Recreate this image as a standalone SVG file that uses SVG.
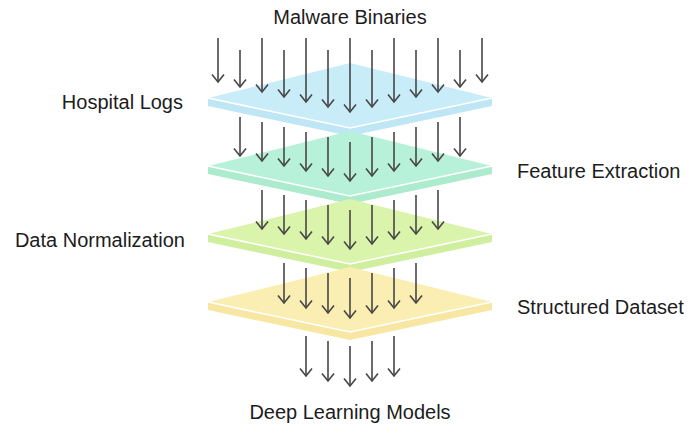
<svg xmlns="http://www.w3.org/2000/svg" width="696" height="429" viewBox="0 0 696 429">
<style>
.lbl{font-family:"Liberation Sans",Arial,sans-serif;font-size:20px;fill:#1c1c1c}
.edge{fill:none;stroke:#ffffff;stroke-width:1.6}
.arr{stroke:#474747;stroke-width:1.6;fill:none;marker-end:url(#ah)}
</style>
<defs>
<marker id="ah" markerUnits="userSpaceOnUse" markerWidth="20" markerHeight="20" refX="0" refY="0" orient="auto" overflow="visible">
<path d="M-7.5,-6 L0,0 L-7.5,6" fill="none" stroke="#474747" stroke-width="1.6"/>
</marker>
</defs>
<rect width="696" height="429" fill="#ffffff"/>
<g id="layer-hospital-logs">
<polygon points="350,63 492,98 350,128 208,98" fill="#c9ecf9"/>
<polygon points="208,98 350,128 492,98 492,106 350,136 208,106" fill="#bfe6f5"/>
<polyline class="edge" points="208,98 350,128 492,98"/>
</g>
<g id="layer-feature-extraction">
<polygon points="350,131 492,166 350,196 208,166" fill="#b8f1d9"/>
<polygon points="208,166 350,196 492,166 492,174 350,204 208,174" fill="#adebcf"/>
<polyline class="edge" points="208,166 350,196 492,166"/>
</g>
<g id="layer-data-normalization">
<polygon points="350,199 492,234 350,264 208,234" fill="#daf4ab"/>
<polygon points="208,234 350,264 492,234 492,242 350,272 208,242" fill="#d0ef9e"/>
<polyline class="edge" points="208,234 350,264 492,234"/>
</g>
<g id="layer-structured-dataset">
<polygon points="350,267 492,302 350,332 208,302" fill="#fbeeb2"/>
<polygon points="208,302 350,332 492,302 492,310 350,340 208,310" fill="#f7e7a3"/>
<polyline class="edge" points="208,302 350,332 492,302"/>
</g>
<g id="connectors">
<line class="arr" x1="218" y1="38" x2="218" y2="82"/>
<line class="arr" x1="240" y1="50" x2="240" y2="87"/>
<line class="arr" x1="262" y1="38" x2="262" y2="92"/>
<line class="arr" x1="284" y1="50" x2="284" y2="97"/>
<line class="arr" x1="306" y1="38" x2="306" y2="102"/>
<line class="arr" x1="328" y1="50" x2="328" y2="107"/>
<line class="arr" x1="350" y1="38" x2="350" y2="112"/>
<line class="arr" x1="372" y1="50" x2="372" y2="107"/>
<line class="arr" x1="394" y1="38" x2="394" y2="102"/>
<line class="arr" x1="416" y1="50" x2="416" y2="97"/>
<line class="arr" x1="438" y1="38" x2="438" y2="92"/>
<line class="arr" x1="460" y1="50" x2="460" y2="87"/>
<line class="arr" x1="482" y1="38" x2="482" y2="82"/>

<line class="arr" x1="240" y1="117" x2="240" y2="156"/>
<line class="arr" x1="262" y1="122" x2="262" y2="161"/>
<line class="arr" x1="284" y1="127" x2="284" y2="166"/>
<line class="arr" x1="306" y1="132" x2="306" y2="171"/>
<line class="arr" x1="328" y1="137" x2="328" y2="176"/>
<line class="arr" x1="350" y1="142" x2="350" y2="181"/>
<line class="arr" x1="372" y1="137" x2="372" y2="176"/>
<line class="arr" x1="394" y1="132" x2="394" y2="171"/>
<line class="arr" x1="416" y1="127" x2="416" y2="166"/>
<line class="arr" x1="438" y1="122" x2="438" y2="161"/>
<line class="arr" x1="460" y1="117" x2="460" y2="156"/>

<line class="arr" x1="262" y1="190" x2="262" y2="229"/>
<line class="arr" x1="284" y1="195" x2="284" y2="234"/>
<line class="arr" x1="306" y1="200" x2="306" y2="239"/>
<line class="arr" x1="328" y1="205" x2="328" y2="244"/>
<line class="arr" x1="350" y1="210" x2="350" y2="249"/>
<line class="arr" x1="372" y1="205" x2="372" y2="244"/>
<line class="arr" x1="394" y1="200" x2="394" y2="239"/>
<line class="arr" x1="416" y1="195" x2="416" y2="234"/>
<line class="arr" x1="438" y1="190" x2="438" y2="229"/>

<line class="arr" x1="284" y1="263" x2="284" y2="303"/>
<line class="arr" x1="306" y1="268" x2="306" y2="308"/>
<line class="arr" x1="328" y1="273" x2="328" y2="313"/>
<line class="arr" x1="350" y1="278" x2="350" y2="318"/>
<line class="arr" x1="372" y1="273" x2="372" y2="313"/>
<line class="arr" x1="394" y1="268" x2="394" y2="308"/>
<line class="arr" x1="416" y1="263" x2="416" y2="303"/>

<line class="arr" x1="306" y1="336" x2="306" y2="376"/>
<line class="arr" x1="328" y1="341" x2="328" y2="381"/>
<line class="arr" x1="350" y1="346" x2="350" y2="386"/>
<line class="arr" x1="372" y1="341" x2="372" y2="381"/>
<line class="arr" x1="394" y1="336" x2="394" y2="376"/>
</g>
<g id="label-malware-binaries"><text class="lbl" x="350" y="24" text-anchor="middle">Malware Binaries</text></g>
<g id="label-hospital-logs"><text class="lbl" x="183" y="109" text-anchor="end">Hospital Logs</text></g>
<g id="label-feature-extraction"><text class="lbl" x="517" y="178">Feature Extraction</text></g>
<g id="label-data-normalization"><text class="lbl" x="185" y="247" text-anchor="end">Data Normalization</text></g>
<g id="label-structured-dataset"><text class="lbl" x="517" y="314">Structured Dataset</text></g>
<g id="label-deep-learning-models"><text class="lbl" x="350" y="419" text-anchor="middle">Deep Learning Models</text></g>
</svg>
